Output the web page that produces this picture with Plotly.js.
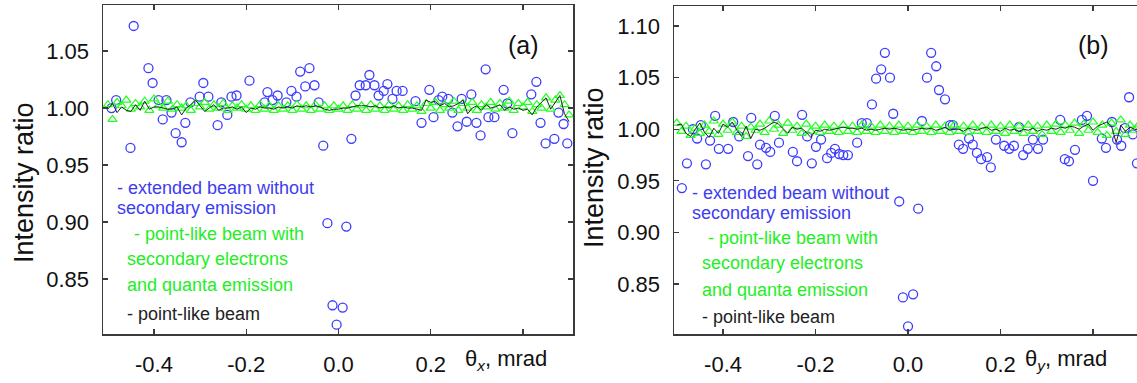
<!DOCTYPE html>
<html>
<head>
<meta charset="utf-8">
<script src="https://cdn.plot.ly/plotly-3.0.1.min.js"></script>
<style>html,body{margin:0;padding:0;background:#fff;}#chart{width:1137px;height:383px;}</style>
</head>
<body>
<div id="chart"></div>
<script>
// ---------- data ----------
const thetaGrid = [-0.50,-0.49,-0.48,-0.47,-0.46,-0.45,-0.44,-0.43,-0.42,-0.41,-0.40,-0.39,-0.38,-0.37,-0.36,-0.35,-0.34,-0.33,-0.32,-0.31,-0.30,-0.29,-0.28,-0.27,-0.26,-0.25,-0.24,-0.23,-0.22,-0.21,-0.20,-0.19,-0.18,-0.17,-0.16,-0.15,-0.14,-0.13,-0.12,-0.11,-0.10,-0.09,-0.08,-0.07,-0.06,-0.05,-0.04,-0.03,-0.02,-0.01,0.00,0.01,0.02,0.03,0.04,0.05,0.06,0.07,0.08,0.09,0.10,0.11,0.12,0.13,0.14,0.15,0.16,0.17,0.18,0.19,0.20,0.21,0.22,0.23,0.24,0.25,0.26,0.27,0.28,0.29,0.30,0.31,0.32,0.33,0.34,0.35,0.36,0.37,0.38,0.39,0.40,0.41,0.42,0.43,0.44,0.45,0.46,0.47,0.48,0.49,0.50];

// panel (a): theta_x
const extendedAx = [-0.492,-0.482,-0.451,-0.444,-0.412,-0.403,-0.390,-0.381,-0.373,-0.362,-0.353,-0.340,-0.332,-0.321,-0.301,-0.293,-0.282,-0.262,-0.254,-0.241,-0.232,-0.221,-0.193,-0.160,-0.154,-0.143,-0.132,-0.113,-0.102,-0.091,-0.083,-0.072,-0.063,-0.052,-0.043,-0.033,-0.024,-0.013,-0.004,0.009,0.017,0.028,0.037,0.046,0.059,0.067,0.078,0.087,0.098,0.106,0.117,0.126,0.139,0.167,0.180,0.197,0.206,0.217,0.225,0.238,0.247,0.258,0.267,0.278,0.288,0.299,0.308,0.319,0.325,0.338,0.358,0.366,0.377,0.418,0.429,0.438,0.449,0.468,0.477,0.488,0.496];
const extendedAy = [1.000,1.007,0.965,1.072,1.035,1.022,1.007,0.990,1.007,0.996,0.978,0.970,0.987,1.005,1.010,1.022,1.010,0.985,1.005,0.994,1.010,1.011,1.024,1.005,1.014,1.007,1.011,1.005,1.015,1.010,1.032,1.019,1.035,1.020,1.005,0.967,0.899,0.827,0.810,0.825,0.896,0.973,1.011,1.020,1.020,1.029,1.020,1.011,1.015,1.021,1.008,1.015,1.015,1.006,0.987,1.016,0.992,1.007,1.010,1.008,0.996,0.984,1.008,0.988,1.012,0.987,0.976,1.034,0.992,0.992,1.016,1.004,0.978,1.012,1.023,0.987,0.969,0.973,0.996,0.986,0.969];
const secondaryA = [1.003,0.990,1.005,1.002,1.007,0.999,1.004,1.001,1.006,0.998,1.008,1.002,1.000,1.006,0.999,1.003,1.000,1.002,0.998,1.004,1.001,1.005,0.999,1.003,1.000,1.004,0.998,1.002,1.000,1.003,0.999,1.002,0.998,1.003,0.999,1.002,0.998,1.002,0.999,1.002,0.998,1.003,0.999,1.002,0.998,1.003,0.999,1.002,0.998,1.002,0.999,1.002,0.998,1.003,0.999,1.002,0.998,1.003,0.999,1.002,0.998,1.003,0.999,1.002,0.998,1.003,0.999,1.002,0.997,1.004,1.000,1.005,0.998,1.003,1.000,1.006,0.998,1.004,1.000,1.005,0.998,1.003,1.001,1.005,0.999,1.004,1.000,1.006,0.998,1.004,1.001,1.005,0.997,1.003,1.000,1.009,0.999,1.007,1.011,1.003,0.994];
const pointA = [0.999,1.004,0.996,1.001,0.998,0.997,1.003,0.998,1.006,0.999,1.001,1.001,1.000,0.999,0.999,1.001,0.994,1.000,1.003,1.007,1.002,0.997,1.000,1.003,0.998,1.000,1.000,1.001,0.999,1.001,0.996,1.000,0.999,1.001,1.000,1.000,0.999,1.001,1.000,1.001,1.000,1.002,1.001,1.002,1.001,1.002,1.001,0.999,0.998,0.999,0.999,1.000,1.000,1.001,1.002,1.002,1.002,1.001,1.002,1.000,1.001,1.000,1.002,1.000,1.001,1.000,1.000,0.999,0.998,1.007,1.005,1.006,1.002,1.004,1.001,1.002,1.004,1.007,0.995,1.000,1.002,0.998,1.003,1.000,1.001,1.003,0.998,1.001,0.999,1.000,0.998,0.999,0.994,1.001,1.005,1.009,0.999,1.005,1.011,0.995,0.988];

// panel (b): theta_y
const extendedBx = [-0.489,-0.478,-0.465,-0.456,-0.448,-0.437,-0.428,-0.417,-0.409,-0.389,-0.378,-0.365,-0.346,-0.339,-0.326,-0.320,-0.307,-0.298,-0.288,-0.279,-0.249,-0.240,-0.229,-0.218,-0.208,-0.199,-0.188,-0.175,-0.166,-0.158,-0.149,-0.140,-0.130,-0.110,-0.100,-0.089,-0.078,-0.069,-0.058,-0.050,-0.039,-0.032,-0.019,-0.011,0.000,0.011,0.022,0.030,0.041,0.050,0.061,0.067,0.080,0.091,0.097,0.110,0.119,0.132,0.140,0.149,0.158,0.171,0.179,0.190,0.208,0.219,0.229,0.240,0.249,0.259,0.270,0.281,0.292,0.329,0.339,0.348,0.361,0.376,0.387,0.400,0.419,0.428,0.441,0.452,0.461,0.469,0.478,0.486,0.495];
const extendedBy = [0.943,0.967,1.000,0.991,1.004,0.966,0.989,1.013,0.981,0.981,1.007,0.993,0.974,1.011,0.966,0.985,0.982,0.978,1.013,0.987,0.978,0.969,1.014,0.993,0.967,0.983,0.990,0.972,0.977,0.981,0.976,0.975,0.975,0.987,1.006,1.006,1.024,1.049,1.058,1.074,1.050,1.015,0.930,0.837,0.809,0.840,0.923,1.008,1.050,1.074,1.061,1.038,1.029,1.004,1.004,0.985,0.981,0.991,0.985,0.977,0.971,0.973,0.963,0.990,0.984,0.981,0.984,1.002,0.975,0.981,0.990,0.981,0.990,1.009,0.971,0.969,0.980,1.009,1.013,0.950,0.991,0.982,1.007,0.990,0.984,1.001,1.031,0.995,0.967];
const secondaryB = [1.006,0.998,1.003,0.994,1.001,0.996,1.004,0.998,1.008,0.995,1.005,0.999,1.007,0.997,1.003,0.993,1.002,0.999,1.005,0.997,1.008,1.000,1.004,0.996,1.006,0.999,1.003,0.996,1.005,0.998,1.003,0.997,1.004,0.998,1.003,0.997,1.004,0.998,1.003,0.997,1.004,0.998,1.003,0.997,1.004,0.998,1.003,0.997,1.004,0.998,1.003,0.997,1.004,0.998,1.003,0.997,1.004,0.998,1.003,0.997,1.004,0.998,1.003,0.997,1.004,0.998,1.003,0.997,1.004,0.998,1.003,0.996,1.004,0.998,1.003,0.996,1.004,0.998,1.003,0.995,1.004,0.998,1.005,0.997,1.004,0.999,1.006,0.996,1.005,0.999,1.007,0.997,1.004,0.994,1.006,0.998,1.009,0.995,1.004,0.999,1.005];
const pointB = [1.004,1.005,0.996,0.993,1.000,1.006,0.997,0.992,1.001,0.996,1.005,1.002,1.007,0.999,0.993,1.003,0.991,1.000,0.999,1.001,1.004,1.007,1.005,1.000,0.996,1.002,1.000,1.001,0.997,0.992,0.999,0.998,1.000,0.999,1.000,1.001,1.002,1.001,1.001,1.000,1.001,0.999,1.000,0.999,1.000,1.001,1.000,1.001,1.000,0.999,1.000,0.999,1.000,1.001,1.000,1.001,0.999,1.000,1.002,0.999,1.000,1.000,0.998,1.001,1.000,0.999,1.001,1.002,0.999,1.000,0.998,1.001,0.999,1.000,0.998,1.000,0.999,1.001,0.998,1.000,0.999,1.001,1.000,1.002,1.001,1.003,1.002,1.000,1.003,1.005,0.999,1.003,1.005,1.007,1.003,0.987,1.004,0.998,1.002,1.000,0.999];

const xTickVals = [-0.4,-0.2,0.0,0.2];
const xTickText = ['-0.4','-0.2','0.0','0.2'];
const xUnlabelledTicks = [0.4];
const yTickValsA = [0.85,0.90,0.95,1.00,1.05];
const yTickValsB = [0.85,0.90,0.95,1.00,1.05,1.10];

const legendLines = [
  {text:'- extended beam without', color:'#3c3cf0'},
  {text:'secondary emission', color:'#3c3cf0'},
  {text:'- point-like beam with', color:'#22ee22'},
  {text:'secondary electrons', color:'#22ee22'},
  {text:'and quanta emission', color:'#22ee22'},
  {text:'- point-like beam', color:'#222222'}
];

// ---------- styling ----------
const W = 1137, H = 383;
const BLUE = '#3c3cff', GREEN = '#22ff22', AXC = '#3a3a3a';
const FONT = 'Liberation Sans, Arial, sans-serif';

function circles(x, y, xa, ya) {
  return {x:x, y:y, xaxis:xa, yaxis:ya, type:'scatter', mode:'markers',
    marker:{symbol:'circle-open', size:9, color:BLUE, line:{width:1.3, color:BLUE}}, showlegend:false, hoverinfo:'skip'};
}
function tris(y, xa, ya) {
  return {x:thetaGrid, y:y, xaxis:xa, yaxis:ya, type:'scatter', mode:'markers',
    marker:{symbol:'triangle-up-open', size:8, color:GREEN, line:{width:1.2, color:GREEN}}, showlegend:false, hoverinfo:'skip'};
}
function blackLine(y, xa, ya) {
  return {x:thetaGrid, y:y, xaxis:xa, yaxis:ya, type:'scatter', mode:'lines',
    line:{color:'#222', width:1}, showlegend:false, hoverinfo:'skip'};
}

const traces = [
  circles(extendedAx, extendedAy, 'x', 'y'),
  tris(secondaryA, 'x', 'y'),
  blackLine(pointA, 'x', 'y'),
  circles(extendedBx, extendedBy, 'x2', 'y2'),
  tris(secondaryB, 'x2', 'y2'),
  blackLine(pointB, 'x2', 'y2')
];

function xAxis(domain, range, anchor) {
  return {domain:domain, range:range, anchor:anchor, tickmode:'array', tickvals:xTickVals, ticktext:xTickText,
    ticks:'inside', ticklen:5, tickwidth:1.3, tickcolor:AXC, showline:true, linecolor:AXC, linewidth:1.5,
    minor:{tickmode:'array', tickvals:xUnlabelledTicks, ticks:'inside', ticklen:5, tickwidth:1.3, tickcolor:AXC, showgrid:false},
    mirror:'ticks', showgrid:false, zeroline:false, ticklabelstandoff:10,
    tickfont:{family:FONT, size:22, color:'#111'}};
}
function yAxis(domain, range, anchor, tickvals, mirror) {
  return {domain:domain, range:range, anchor:anchor, tickmode:'array', tickvals:tickvals, tickformat:'.2f',
    ticks:'inside', ticklen:5, tickwidth:1.3, tickcolor:AXC, showline:true, linecolor:AXC, linewidth:1.5,
    mirror:mirror, showgrid:false, zeroline:false, ticklabelstandoff:8,
    tickfont:{family:FONT, size:22, color:'#111'}};
}

const px = v => v / W, py = v => 1 - v / H;

const annotations = [];
function addText(x, y, text, opts) {
  annotations.push(Object.assign({xref:'paper', yref:'paper', x:px(x), y:py(y), text:text, showarrow:false,
    xanchor:'left', yanchor:'middle', font:{family:FONT, size:18, color:'#111'}}, opts || {}));
}
// legend text blocks
const legA = [[115,188],[115,208],[132,234],[125,259],[125,285],[125,314]];
const legB = [[690,193],[690,213],[706,238],[700,263],[700,290],[700,317]];
legendLines.forEach((l, i) => {
  addText(legA[i][0], legA[i][1], l.text, {font:{family:FONT, size:18, color:l.color}});
  addText(legB[i][0], legB[i][1], l.text, {font:{family:FONT, size:18, color:l.color}});
});
// panel labels
addText(523, 45, '(a)', {xanchor:'center', font:{family:FONT, size:25, color:'#111'}});
addText(1093, 45, '(b)', {xanchor:'center', font:{family:FONT, size:25, color:'#111'}});
// axis titles
addText(463, 360, 'θ<sub><i>x</i></sub>, mrad', {font:{family:FONT, size:22, color:'#111'}});
addText(1023, 360, 'θ<sub><i>y</i></sub>, mrad', {font:{family:FONT, size:22, color:'#111'}});
addText(24, 183, 'Intensity ratio', {xanchor:'center', textangle:-90, font:{family:FONT, size:27, color:'#111'}});
addText(594, 168, 'Intensity ratio', {xanchor:'center', textangle:-90, font:{family:FONT, size:27, color:'#111'}});

const layout = {
  width:W, height:H, margin:{l:0, r:0, t:0, b:0}, paper_bgcolor:'#fff', plot_bgcolor:'#fff',
  font:{family:FONT},
  xaxis: xAxis([103/W, 573/W], [-0.5105, 0.5084], 'y'),
  yaxis: yAxis([1-334/H, 1-5/H], [0.8018, 1.0904], 'x', yTickValsA, 'ticks'),
  xaxis2: xAxis([674/W, 1], [-0.506, 0.4951], 'y2'),
  yaxis2: yAxis([1-334/H, 1-6/H], [0.8016, 1.1194], 'x2', yTickValsB, false),
  annotations: annotations
};

Plotly.newPlot('chart', traces, layout, {staticPlot:true, displayModeBar:false});
</script>
</body>
</html>
